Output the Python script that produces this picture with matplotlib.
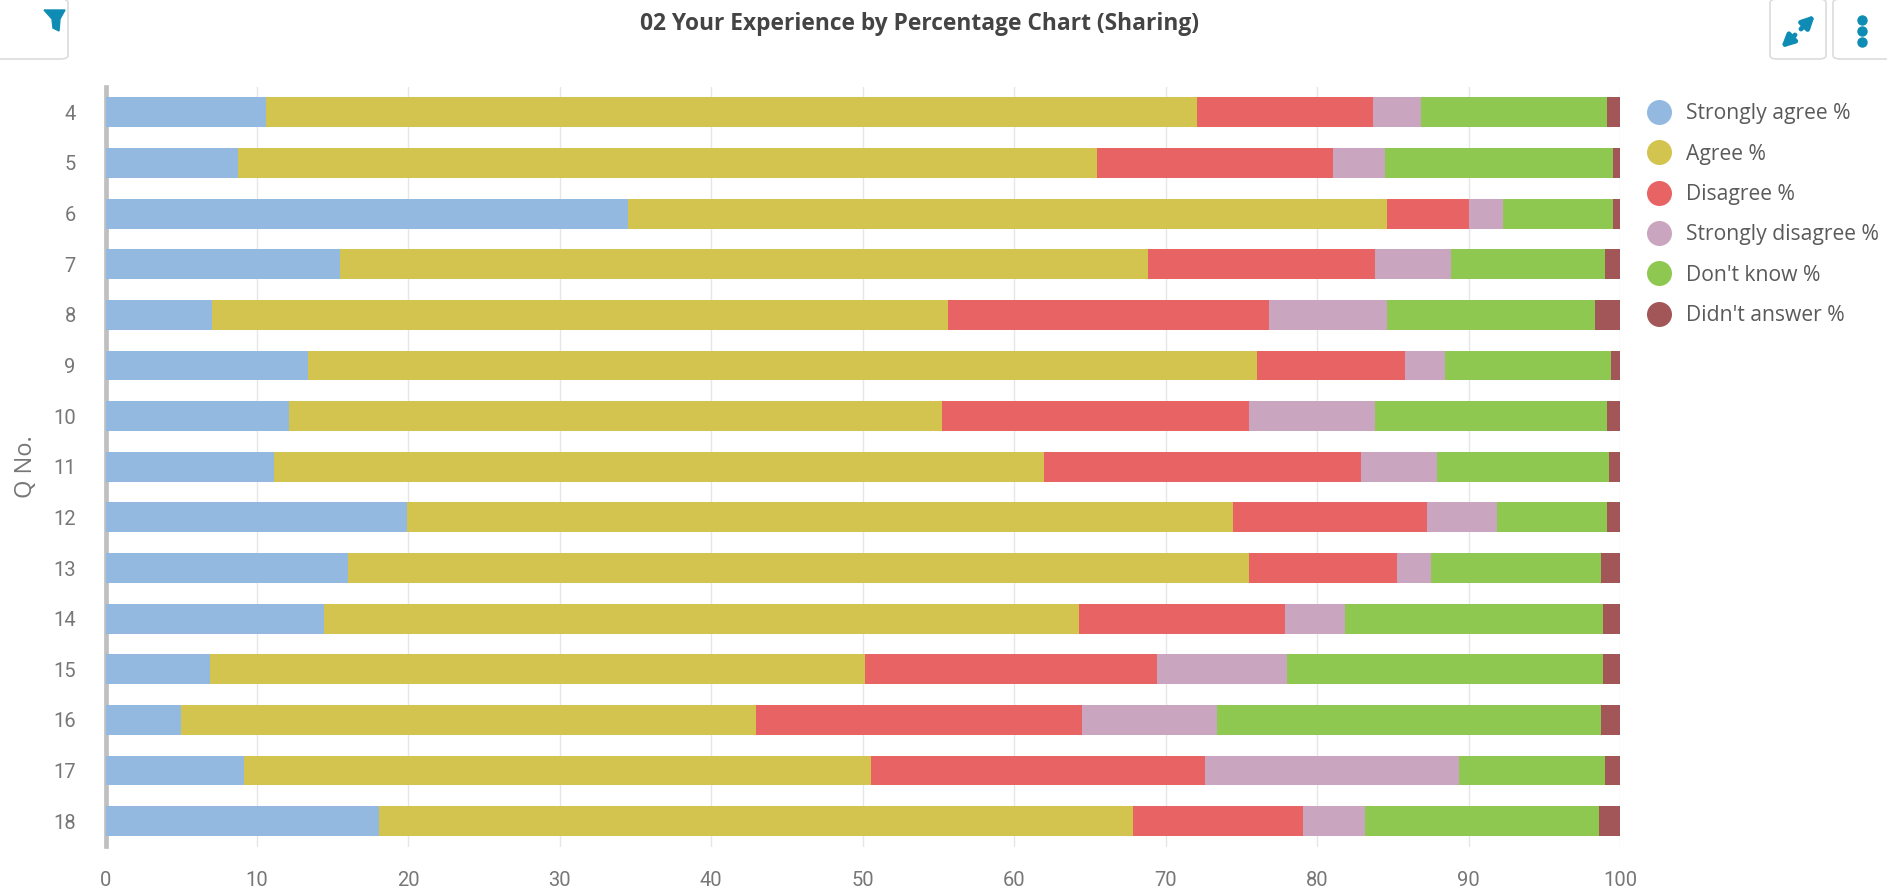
import matplotlib
matplotlib.use('Agg')
from matplotlib import pyplot as plt
from matplotlib.lines import Line2D
from matplotlib.patches import FancyBboxPatch, Polygon, FancyArrowPatch
import numpy as np

W, H = 1887, 893

questions = ['4', '5', '6', '7', '8', '9', '10', '11', '12', '13', '14', '15', '16', '17', '18']
strongly_agree = [10.62, 8.77, 34.5, 15.5, 7.0, 13.4, 12.1, 11.1, 19.9, 16.0, 14.4, 6.9, 5.0, 9.17, 18.03]
agree = [61.46, 56.73, 50.12, 53.35, 48.65, 62.64, 43.1, 50.9, 54.53, 59.51, 49.85, 43.25, 37.95, 41.38, 49.82]
disagree = [11.62, 15.55, 5.43, 15.0, 21.18, 9.79, 20.31, 20.9, 12.83, 9.79, 13.63, 19.28, 21.5, 22.03, 11.22]
strongly_disagree = [3.16, 3.44, 2.23, 5.02, 7.81, 2.62, 8.32, 5.02, 4.64, 2.22, 3.97, 8.59, 8.95, 16.79, 4.1]
dont_know = [12.31, 15.07, 7.28, 10.16, 13.71, 10.96, 15.34, 11.38, 7.27, 11.25, 17.05, 20.88, 25.37, 9.66, 15.47]
no_answer = [0.83, 0.44, 0.44, 0.97, 1.65, 0.59, 0.83, 0.7, 0.83, 1.23, 1.1, 1.1, 1.23, 0.97, 1.36]

series = [strongly_agree, agree, disagree, strongly_disagree, dont_know, no_answer]
names = ['Strongly agree %', 'Agree %', 'Disagree %', 'Strongly disagree %', "Don't know %", "Didn't answer %"]
colors = ['#93b9e1', '#d3c44f', '#e86363', '#c9a5bf', '#8fc851', '#a35658']

TEAL = '#0f8cb4'

plt.rcParams['font.family'] = ['Open Sans', 'DejaVu Sans']


def fx(px):
    return px / W


def fy(px):
    return 1 - px / H


fig = plt.figure(figsize=(W / 100, H / 100), dpi=100, facecolor='white')
ax = fig.add_axes([fx(105.5), fy(846.5), fx(1620 - 105.5), (846.5 - 87) / H])

pos = np.arange(len(questions))
left = np.zeros(len(questions))
for vals, name, col in zip(series, names, colors):
    ax.barh(pos, vals, left=left, height=0.59, color=col, label=name, zorder=3)
    left = left + np.array(vals)

ax.set_xlim(0, 100)
ax.set_ylim(len(questions) - 0.5, -0.5)
ax.set_yticks(pos)
ax.set_yticklabels(questions, fontfamily='Roboto')
ax.set_xticks(range(0, 101, 10))
ax.tick_params(axis='both', length=0, labelsize=14.5, labelcolor='#777777')
ax.tick_params(axis='y', pad=21.5)
ax.tick_params(axis='x', pad=18)
for lab in ax.get_xticklabels():
    lab.set_fontfamily('Roboto')
ax.grid(axis='x', color='#e6e6e6', linewidth=1, zorder=0)
for s in ['top', 'right', 'bottom']:
    ax.spines[s].set_visible(False)
ax.spines['left'].set_color('#c0c0c0')
ax.spines['left'].set_linewidth(3.4)
ax.spines['left'].set_zorder(2)

ax.set_ylabel('Q No.', fontsize=17, color='#777777', va='center')
ax.yaxis.set_label_coords((26 - 105.5) / (1620 - 105.5), 0.5)

fig.text(fx(919), fy(23.5), '02 Your Experience by Percentage Chart (Sharing)', fontsize=16.4,
         fontweight='bold', color='#444444', ha='center', va='center')

handles = [Line2D([], [], linestyle='none', marker='o', markersize=18, color=c, markeredgewidth=0) for c in colors]
fig.legend(handles, names, loc='upper left', bbox_to_anchor=(fx(1645), fy(103.5)), frameon=False,
           fontsize=15.2, labelcolor='#5a5a5a', labelspacing=0.915, handletextpad=0.62,
           handlelength=1.33, borderpad=0, borderaxespad=0)

# toolbar buttons above the chart
for x0, x1 in [(-20, 68), (1770, 1826), (1833, 1900)]:
    fig.add_artist(FancyBboxPatch((fx(x0), fy(59)), (x1 - x0) / W, 60 / H, boxstyle='round,pad=0,rounding_size=0.004',
                                  transform=fig.transFigure, facecolor='white', edgecolor='#dcdcdc', linewidth=1.2))
fig.add_artist(Polygon([(fx(44), fy(10)), (fx(65), fy(10)), (fx(60), fy(19)), (fx(59), fy(31)), (fx(53), fy(28)),
                        (fx(52), fy(19))], closed=True, transform=fig.transFigure, color=TEAL))
fig.add_artist(FancyArrowPatch((fx(1801), fy(29)), (fx(1815), fy(15)), transform=fig.transFigure, arrowstyle='-|>',
                               mutation_scale=18, linewidth=3.5, color=TEAL, shrinkA=0, shrinkB=0))
fig.add_artist(FancyArrowPatch((fx(1795), fy(35)), (fx(1781), fy(48)), transform=fig.transFigure, arrowstyle='-|>',
                               mutation_scale=18, linewidth=3.5, color=TEAL, shrinkA=0, shrinkB=0))
for y in [20, 31, 42]:
    fig.add_artist(Line2D([fx(1862)], [fy(y)], marker='o', markersize=6.5, color=TEAL, linestyle='none',
                          transform=fig.transFigure))

fig.savefig('out.png', dpi=100)
